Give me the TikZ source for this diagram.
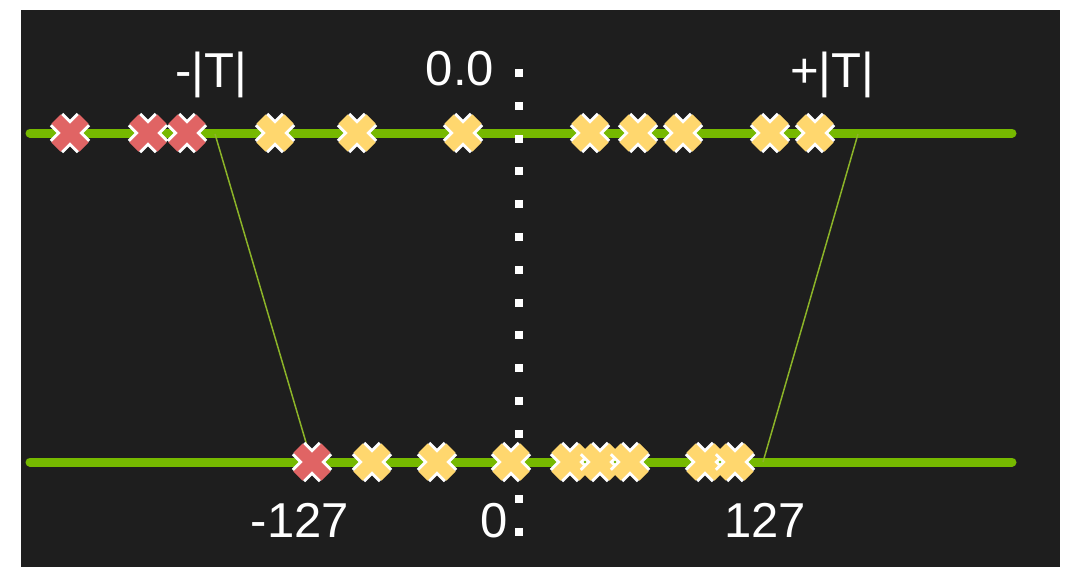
\documentclass[tikz,border=0pt]{standalone}
\usepackage{fontspec}
\setmainfont{Liberation Sans}
\definecolor{bg}{RGB}{30,30,30}
\definecolor{nvgreen}{RGB}{118,185,0}
\definecolor{mapgreen}{RGB}{140,180,40}
\definecolor{xred}{RGB}{224,100,100}
\definecolor{xyel}{RGB}{255,215,110}
\tikzset{
  x=1pt, y=-1pt,
  axisline/.style={nvgreen, line width=9pt, line cap=round},
  mapline/.style={draw=mapgreen, line width=1.5pt},
  lbl/.style={text=white, font=\fontsize{49}{49}\selectfont, anchor=base, inner sep=0pt},
  dotsq/.style={fill=white},
  pics/xmark/.style={code={
    \draw[white, line width=19pt, line join=round] (-13.5,-13.5) -- (13.5,13.5) (-13.5,13.5) -- (13.5,-13.5);
    \draw[#1, line width=13pt] (-14,-14) -- (14,14) (-14,14) -- (14,-14);
  }}
}
\begin{document}
\begin{tikzpicture}
\useasboundingbox (0,0) rectangle (1080,573);
\fill[white] (0,0) rectangle (1080,573);
\fill[bg] (21,10) rectangle (1060,567);
% axes
\coordinate (tl) at (30,133);
\coordinate (tr) at (1012,133);
\coordinate (bl) at (30,462);
\coordinate (br) at (1012,462);
\draw[axisline] (tl) -- (tr);
\draw[axisline] (bl) -- (br);
% mapping lines
\coordinate (tmin) at (215,134);
\coordinate (bmin) at (310,456);
\coordinate (tmax) at (858,134);
\coordinate (bmax) at (763,462);
\draw[mapline] (tmin) -- (bmin);
\draw[mapline] (tmax) -- (bmax);
% dotted zero line
\foreach \k in {0,...,14}{
  \fill[dotsq] ({519-4},{73+32.8*\k-4}) rectangle ++(8,8);
}
% top crosses
\foreach \x in {70,148,187}{ \pic at (\x,133) {xmark=xred}; }
\foreach \x in {275,357,463,590,638,683,770,815}{ \pic at (\x,133) {xmark=xyel}; }
% bottom crosses
\pic at (312,462) {xmark=xred};
\foreach \x in {372,437,511,570,600,630,705,735}{ \pic at (\x,462) {xmark=xyel}; }
% labels
\node[lbl] (negT) at (211,87) {-|T|};
\node[lbl] (zf) at (460,85) {0.0};
\node[lbl] (posT) at (832,87) {+|T|};
\node[lbl] (n127) at (300,537) {-127};
\node[lbl] (z) at (494,537) {0};
\node[lbl] (p127) at (765,537) {127};
\end{tikzpicture}
\end{document}
